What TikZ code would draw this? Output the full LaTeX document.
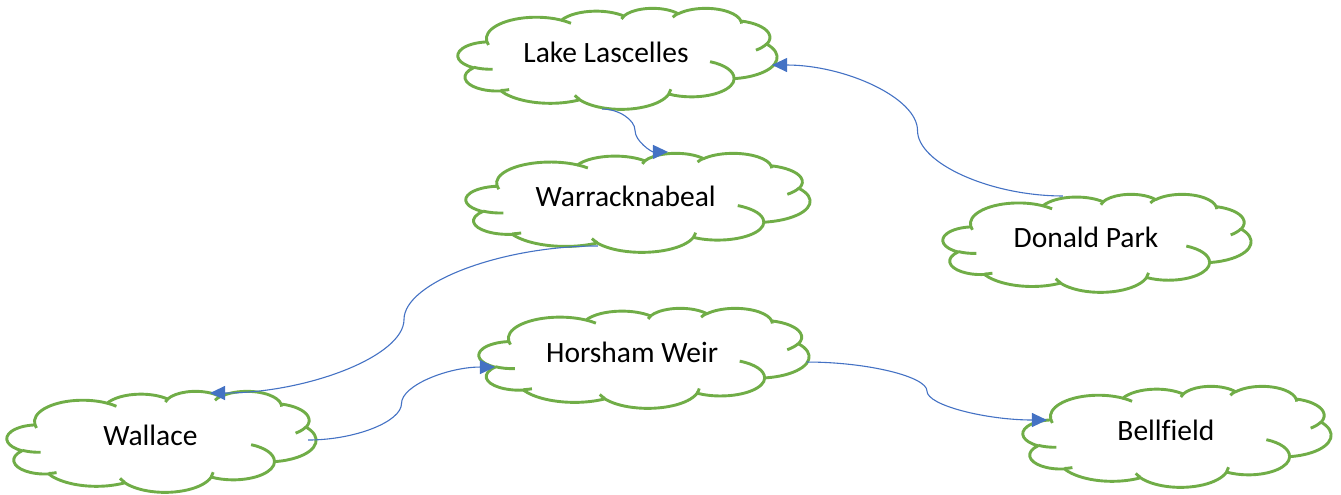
\documentclass[tikz,border=0pt]{standalone}
\usepackage{fontspec}
\setmainfont{Carlito}[Ligatures=CommonOff]
\usetikzlibrary{arrows.meta,calc}
\definecolor{cgreen}{HTML}{70AD47}
\definecolor{cblue}{HTML}{4472C4}

% Office-style arc: wR hR start sweep (visual angles, degrees)
\newcommand\ooarc[4]{%
  \pgfmathsetmacro\ooS{atan2((#1)*sin(#3),(#2)*cos(#3))}%
  \pgfmathsetmacro\ooE{atan2((#1)*sin((#3)+(#4)),(#2)*cos((#3)+(#4)))}%
  \pgfmathsetmacro\ooD{\ooE-\ooS}%
  \pgfmathsetmacro\ooD{ifthenelse((#4)>0, ifthenelse(\ooD<0,\ooD+360,\ooD), ifthenelse(\ooD>0,\ooD-360,\ooD))}%
  \xdef\ooArc{arc[start angle=\ooS, delta angle=\ooD, x radius=#1, y radius=#2]}%
}
\def\cloudmain{(3.9,14.37)}
\newcommand\addmain[4]{\ooarc{#1}{#2}{#3}{#4}\xdef\cloudmain{\cloudmain\space\ooArc}}
\def\cloudinner{}
\newcommand\addinner[6]{\ooarc{#3}{#4}{#5}{#6}\xdef\cloudinner{\cloudinner\space(#1,#2)\space\ooArc}}

\addmain{6.753}{9.19}{-190.4875}{123.7805}
\addmain{5.333}{7.267}{-144.1024}{89.9452}
\addmain{4.365}{5.945}{-145.8079}{99.7230}
\addmain{4.857}{6.595}{-130.9861}{117.2417}
\addmain{5.333}{7.273}{-78.7089}{109.0269}
\addmain{6.775}{9.22}{-46.2673}{130.2690}
\addmain{5.785}{7.867}{0.6250}{114.0333}
\addmain{6.752}{9.215}{22.4516}{115.1726}
\addmain{7.72}{10.543}{66.2426}{75.7110}
\addmain{4.36}{5.918}{-274.9421}{146.7356}
\addmain{4.345}{5.945}{-246.8285}{152.5189}

\addinner{4.693}{26.177}{4.345}{5.945}{86.742}{26.4295}
\addinner{6.928}{34.899}{4.36}{5.918}{73.6105}{11.4475}
\addinner{16.478}{39.09}{6.752}{9.215}{137.6242}{14.0811}
\addinner{28.827}{34.751}{6.752}{9.215}{6.4533}{15.9984}
\addinner{34.129}{22.954}{5.785}{7.867}{-70.2924}{70.9174}
\addinner{41.798}{15.354}{5.333}{7.273}{30.318}{27.7515}
\addinner{38.324}{5.426}{4.857}{6.595}{-13.7443}{14.8589}
\addinner{29.078}{3.952}{4.857}{6.595}{-149.1815}{18.1954}
\addinner{22.141}{4.72}{4.365}{5.945}{-163.4943}{17.6864}
\addinner{14.0}{5.192}{6.753}{9.19}{-66.707}{12.3194}
\addinner{4.127}{15.789}{6.753}{9.19}{157.6544}{11.8582}

\tikzset{
  cloudfill/.style={draw=cgreen, fill=white, line width=2.9pt, line join=round},
  cloudline/.style={draw=cgreen, line width=2.9pt},
  cloudtext/.style={font=\fontsize{29.5}{35}\selectfont, inner sep=0pt, text=black},
  conn/.style={draw=cblue, line width=1.1pt, -{Triangle[length=15pt,width=14pt]}}
}

% name, left, top, width, height, text
\newcommand\cloudnode[6]{%
  \begin{scope}[shift={(#2+1,#3+1)}, xscale={(#4-2)/43.2}, yscale={(#5-2)/43.2}]
    \path[cloudfill] \cloudmain -- cycle;
    \path[cloudline] \cloudinner;
  \end{scope}
  \node[cloudtext] (#1) at ({#2+0.4644*#4},{#3+0.4768*#5-3.5}) {#6};
}

\newcommand\conn[2]{%
  \draw[conn] let \p1=(#1), \p2=(#2) in
    (\p1) .. controls ({0.75*\x1+0.25*\x2},\y1) and ({0.5*\x1+0.5*\x2},{0.75*\y1+0.25*\y2})
    .. ({0.5*\x1+0.5*\x2},{0.5*\y1+0.5*\y2})
    .. controls ({0.5*\x1+0.5*\x2},{0.25*\y1+0.75*\y2}) and ({0.25*\x1+0.75*\x2},\y2) .. (\p2);}

\begin{document}
\begin{tikzpicture}[x=1pt, y=-1pt]
  \useasboundingbox (0,0) rectangle (1341,495);

  \cloudnode{lake}{457}{7}{321}{103}{Lake Lascelles}
  \cloudnode{warr}{465}{152}{346}{101}{Warracknabeal}
  \cloudnode{donald}{942}{193}{310}{100}{Donald Park}
  \cloudnode{wallace}{6}{390}{311}{103}{Wallace}
  \cloudnode{horsham}{478}{307}{332}{102}{Horsham Weir}
  \cloudnode{bell}{1022}{385}{310}{103}{Bellfield}

  \conn{[shift={(-4,56.4)}]lake.center}{[shift={(42.3,-44.7)}]warr.center}
  \conn{[shift={(-23,-41.2)}]donald.center}{[shift={(166,12.4)}]lake.center}
  \conn{[shift={(-27.7,49.3)}]warr.center}{[shift={(59.6,-42.6)}]wallace.center}
  \conn{[shift={(157.6,4.4)}]wallace.center}{[shift={(-137.2,14.9)}]horsham.center}
  \conn{[shift={(174.8,9.9)}]horsham.center}{[shift={(-119,-10.6)}]bell.center}
\end{tikzpicture}
\end{document}
